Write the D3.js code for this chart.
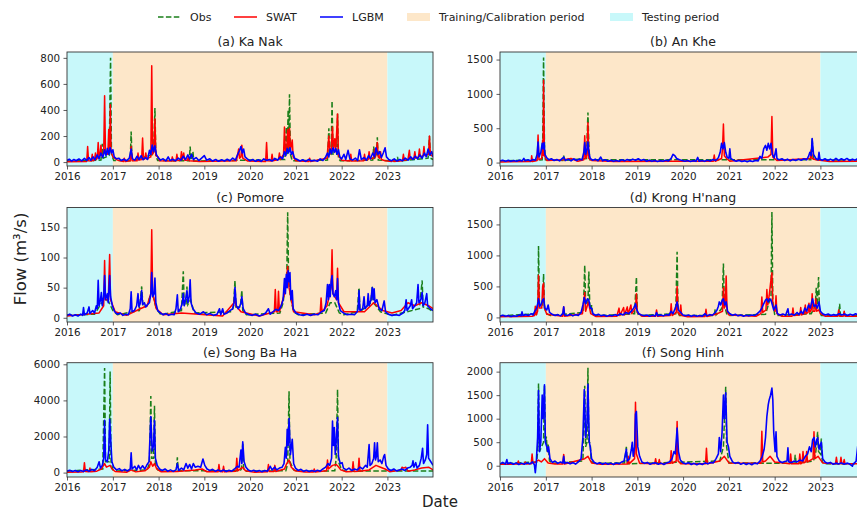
<!DOCTYPE html>
<html>
<head>
<meta charset="utf-8">
<script src="https://cdn.jsdelivr.net/npm/d3@7"></script>
<style>
  body { margin: 0; background: #fff; }
  text { font-family: "DejaVu Sans", sans-serif; fill: #222; }
</style>
</head>
<body>
<svg id="chart" width="857" height="512"></svg>
<script>
// ---- data (decimal year, flow m3/s) ----
const stations = ["(a) Ka Nak", "(b) An Khe", "(c) Pomore", "(d) Krong H'nang", "(e) Song Ba Ha", "(f) Song Hinh"];
const yearTicks = [2016, 2017, 2018, 2019, 2020, 2021, 2022, 2023];
const yTickValues = [[0, 200, 400, 600, 800], [0, 500, 1000, 1500], [0, 50, 100, 150], [0, 500, 1000, 1500], [0, 2000, 4000, 6000], [0, 500, 1000, 1500, 2000]];
const yLimits = [[-30, 845], [-50, 1610], [-7, 183], [-74, 1773], [-244, 6089], [-240, 2190]];
const periods = [
  {name: "Testing period", start: 2016, end: 2017},
  {name: "Training/Calibration period", start: 2017, end: 2023},
  {name: "Testing period", start: 2023, end: 2024}
];

const kaNakObs = [2016.00,8, 2016.74,15, 2016.77,140, 2016.79,30, 2016.92,50, 2016.95,800, 2016.97,60, 2017.02,12, 2017.38,10, 2017.40,235, 2017.42,10, 2017.89,60, 2017.92,415, 2017.94,50, 2017.98,12, 2018.67,10, 2018.69,120, 2018.71,15, 2018.75,80, 2018.77,8, 2020.76,20, 2020.79,270, 2020.81,60, 2020.83,400, 2020.845,80, 2020.86,520, 2020.88,60, 2020.92,10, 2021.69,15, 2021.72,260, 2021.74,50, 2021.77,60, 2021.79,470, 2021.81,60, 2021.89,60, 2021.91,370, 2021.93,30, 2021.97,10, 2022.68,15, 2022.70,120, 2022.72,30, 2022.76,40, 2022.78,190, 2022.80,15, 2023.20,8, 2023.22,40, 2023.24,8, 2023.89,30, 2023.92,200, 2023.94,30, 2024.00,20];
const kaNakSwat = [2016.00,3, 2016.43,5, 2016.45,120, 2016.47,10, 2016.53,8, 2016.55,60, 2016.57,10, 2016.60,15, 2016.62,70, 2016.64,20, 2016.66,30, 2016.68,150, 2016.70,40, 2016.72,50, 2016.74,130, 2016.76,45, 2016.80,60, 2016.82,510, 2016.84,70, 2016.89,60, 2016.91,250, 2016.93,90, 2016.945,440, 2016.96,80, 2017.00,40, 2017.10,15, 2017.23,5, 2017.25,30, 2017.27,5, 2017.38,10, 2017.40,120, 2017.42,10, 2017.53,10, 2017.55,70, 2017.57,15, 2017.63,20, 2017.65,185, 2017.67,20, 2017.70,25, 2017.72,70, 2017.74,25, 2017.83,40, 2017.85,740, 2017.87,60, 2017.90,80, 2017.92,330, 2017.94,50, 2017.99,40, 2018.02,10, 2018.28,8, 2018.30,40, 2018.32,8, 2018.38,10, 2018.40,60, 2018.42,12, 2018.48,15, 2018.50,80, 2018.52,20, 2018.55,70, 2018.57,15, 2018.63,15, 2018.65,40, 2018.67,10, 2018.90,5, 2019.70,10, 2019.73,60, 2019.75,100, 2019.77,30, 2019.80,40, 2019.82,130, 2019.84,30, 2019.95,8, 2020.34,5, 2020.36,150, 2020.38,10, 2020.46,8, 2020.48,60, 2020.50,10, 2020.62,20, 2020.64,70, 2020.66,20, 2020.73,60, 2020.75,270, 2020.77,80, 2020.80,100, 2020.82,250, 2020.84,110, 2020.86,260, 2020.88,90, 2020.92,170, 2020.94,40, 2021.00,10, 2021.28,5, 2021.30,30, 2021.32,5, 2021.68,30, 2021.70,120, 2021.72,200, 2021.74,60, 2021.77,90, 2021.80,270, 2021.82,100, 2021.85,180, 2021.87,80, 2021.91,370, 2021.93,50, 2022.00,15, 2022.18,8, 2022.20,60, 2022.22,8, 2022.48,10, 2022.50,60, 2022.52,15, 2022.58,20, 2022.60,80, 2022.62,25, 2022.70,30, 2022.72,100, 2022.74,40, 2022.78,150, 2022.80,40, 2022.83,30, 2022.85,80, 2022.87,20, 2022.95,10, 2023.10,5, 2023.12,20, 2023.14,5, 2023.33,10, 2023.35,60, 2023.37,15, 2023.45,20, 2023.48,90, 2023.50,25, 2023.58,30, 2023.60,80, 2023.62,30, 2023.68,40, 2023.70,100, 2023.72,40, 2023.78,50, 2023.80,120, 2023.82,50, 2023.90,60, 2023.92,200, 2023.94,60, 2024.00,40];
const kaNakLgbm = [2016.00,12, 2016.05,22, 2016.10,8, 2016.15,20, 2016.20,10, 2016.26,24, 2016.32,9, 2016.38,28, 2016.43,12, 2016.48,35, 2016.52,14, 2016.57,40, 2016.61,18, 2016.66,55, 2016.70,25, 2016.74,70, 2016.78,35, 2016.82,95, 2016.85,50, 2016.88,105, 2016.91,60, 2016.94,110, 2016.97,70, 2017.00,95, 2017.03,40, 2017.08,25, 2017.13,30, 2017.18,12, 2017.24,22, 2017.30,10, 2017.36,30, 2017.40,100, 2017.43,25, 2017.48,15, 2017.53,45, 2017.57,20, 2017.62,50, 2017.66,18, 2017.71,35, 2017.76,20, 2017.80,90, 2017.83,60, 2017.86,130, 2017.89,80, 2017.92,125, 2017.95,60, 2017.99,35, 2018.04,15, 2018.10,25, 2018.16,10, 2018.21,40, 2018.25,12, 2018.31,22, 2018.37,10, 2018.43,30, 2018.49,15, 2018.54,45, 2018.59,20, 2018.64,55, 2018.68,25, 2018.72,60, 2018.76,20, 2018.82,35, 2018.88,12, 2018.94,30, 2019.00,50, 2019.05,15, 2019.12,25, 2019.18,8, 2019.25,20, 2019.31,6, 2019.38,18, 2019.44,8, 2019.50,22, 2019.56,10, 2019.62,30, 2019.68,15, 2019.73,60, 2019.77,90, 2019.80,120, 2019.83,70, 2019.86,100, 2019.89,40, 2019.94,25, 2020.00,10, 2020.06,20, 2020.12,6, 2020.18,18, 2020.24,5, 2020.30,25, 2020.36,12, 2020.42,20, 2020.48,8, 2020.54,28, 2020.60,15, 2020.66,40, 2020.71,25, 2020.75,80, 2020.78,50, 2020.81,105, 2020.84,70, 2020.87,110, 2020.90,60, 2020.93,80, 2020.97,30, 2021.03,20, 2021.09,8, 2021.15,18, 2021.21,5, 2021.28,20, 2021.34,8, 2021.40,15, 2021.47,6, 2021.53,25, 2021.59,12, 2021.65,40, 2021.69,70, 2021.72,40, 2021.75,100, 2021.78,65, 2021.81,110, 2021.84,75, 2021.87,105, 2021.90,60, 2021.93,95, 2021.96,40, 2022.00,25, 2022.05,60, 2022.09,20, 2022.14,90, 2022.18,25, 2022.24,15, 2022.30,30, 2022.35,12, 2022.39,95, 2022.43,20, 2022.49,35, 2022.54,15, 2022.59,50, 2022.63,25, 2022.68,70, 2022.72,40, 2022.75,110, 2022.79,60, 2022.83,80, 2022.87,35, 2022.91,70, 2022.95,110, 2022.98,40, 2023.03,20, 2023.09,10, 2023.15,25, 2023.21,8, 2023.27,20, 2023.33,10, 2023.39,30, 2023.45,15, 2023.51,40, 2023.56,20, 2023.61,45, 2023.66,25, 2023.71,55, 2023.76,30, 2023.81,70, 2023.85,40, 2023.89,100, 2023.93,55, 2023.97,80, 2024.00,40];

const anKheObs = [2016.00,25, 2016.92,40, 2016.93,200, 2016.95,1530, 2016.97,250, 2016.99,40, 2017.37,30, 2017.39,100, 2017.41,30, 2017.89,60, 2017.90,300, 2017.92,730, 2017.94,250, 2017.96,40, 2022.79,40, 2022.80,150, 2022.82,350, 2022.84,100, 2022.86,40, 2024.00,35];
const anKheSwat = [2016.00,10, 2016.68,15, 2016.69,100, 2016.71,15, 2016.81,30, 2016.83,400, 2016.85,40, 2016.91,60, 2016.93,330, 2016.94,100, 2016.95,1200, 2016.97,100, 2017.02,30, 2017.40,40, 2017.55,60, 2017.70,20, 2017.83,40, 2017.85,390, 2017.87,60, 2017.90,100, 2017.92,580, 2017.94,60, 2018.00,30, 2018.50,15, 2019.80,20, 2020.66,20, 2020.68,110, 2020.70,20, 2020.84,60, 2020.86,200, 2020.88,560, 2020.90,100, 2020.95,60, 2021.02,20, 2021.85,80, 2021.92,120, 2021.94,670, 2021.96,80, 2022.05,30, 2022.78,60, 2022.80,180, 2022.82,60, 2022.90,40, 2023.20,15, 2024.00,20];
const anKheLgbm = [2016.00,25, 2016.06,35, 2016.12,20, 2016.18,32, 2016.24,18, 2016.30,30, 2016.36,20, 2016.42,35, 2016.48,22, 2016.52,60, 2016.55,25, 2016.61,40, 2016.66,25, 2016.72,45, 2016.77,35, 2016.81,120, 2016.83,300, 2016.85,80, 2016.89,150, 2016.92,280, 2016.94,200, 2016.96,290, 2016.98,120, 2017.02,70, 2017.07,40, 2017.12,55, 2017.18,30, 2017.24,45, 2017.30,25, 2017.36,60, 2017.39,80, 2017.43,30, 2017.49,50, 2017.55,25, 2017.61,55, 2017.67,30, 2017.73,50, 2017.79,40, 2017.83,150, 2017.85,290, 2017.87,120, 2017.90,200, 2017.92,300, 2017.94,150, 2017.97,60, 2018.02,35, 2018.08,50, 2018.14,25, 2018.20,80, 2018.24,25, 2018.30,40, 2018.36,20, 2018.42,35, 2018.48,18, 2018.54,30, 2018.60,20, 2018.66,40, 2018.72,25, 2018.78,45, 2018.84,30, 2018.90,50, 2018.96,35, 2019.02,55, 2019.08,30, 2019.14,45, 2019.20,20, 2019.26,35, 2019.32,18, 2019.38,30, 2019.44,15, 2019.50,28, 2019.56,20, 2019.62,35, 2019.68,25, 2019.74,60, 2019.78,120, 2019.82,100, 2019.86,60, 2019.92,40, 2019.98,30, 2020.04,20, 2020.10,30, 2020.16,15, 2020.22,28, 2020.28,18, 2020.32,75, 2020.35,20, 2020.41,30, 2020.47,18, 2020.53,35, 2020.59,22, 2020.65,45, 2020.71,30, 2020.77,70, 2020.81,150, 2020.84,280, 2020.87,200, 2020.90,290, 2020.93,150, 2020.96,80, 2021.00,60, 2021.02,200, 2021.04,60, 2021.10,35, 2021.16,20, 2021.22,30, 2021.28,15, 2021.34,25, 2021.40,12, 2021.46,25, 2021.52,15, 2021.58,30, 2021.64,25, 2021.68,90, 2021.72,60, 2021.76,200, 2021.80,250, 2021.83,180, 2021.86,280, 2021.89,200, 2021.92,280, 2021.95,120, 2021.99,70, 2022.03,200, 2022.05,60, 2022.10,40, 2022.16,55, 2022.22,30, 2022.28,50, 2022.34,25, 2022.40,45, 2022.46,30, 2022.52,50, 2022.58,35, 2022.64,55, 2022.70,40, 2022.74,90, 2022.77,150, 2022.80,100, 2022.82,350, 2022.85,120, 2022.90,60, 2022.95,40, 2022.97,150, 2022.99,50, 2023.04,35, 2023.10,55, 2023.16,30, 2023.22,50, 2023.28,28, 2023.34,60, 2023.40,30, 2023.46,55, 2023.52,35, 2023.58,60, 2023.64,30, 2023.70,50, 2023.76,35, 2023.82,60, 2023.88,35, 2023.94,55, 2024.00,40];

const pomoreObs = [2016.00,4, 2016.60,6, 2016.65,12, 2016.70,18, 2016.80,30, 2016.90,28, 2017.00,12, 2017.10,5, 2017.58,12, 2017.63,52, 2017.66,18, 2017.75,20, 2017.85,45, 2017.95,15, 2018.05,5, 2018.50,12, 2018.54,77, 2018.56,20, 2018.60,22, 2018.62,52, 2018.64,22, 2018.70,30, 2018.78,8, 2019.60,10, 2019.64,20, 2019.67,62, 2019.69,18, 2019.79,18, 2019.82,46, 2019.84,12, 2019.92,5, 2020.65,8, 2020.72,25, 2020.76,50, 2020.80,65, 2020.82,175, 2020.84,65, 2020.88,35, 2020.95,10, 2021.05,5, 2021.65,8, 2021.75,25, 2021.85,25, 2021.95,8, 2022.05,5, 2022.34,10, 2022.38,50, 2022.40,10, 2022.64,25, 2022.67,53, 2022.69,25, 2022.75,20, 2022.85,10, 2023.10,4, 2023.70,15, 2023.76,62, 2023.78,18, 2023.90,15, 2024.00,10];
const pomoreSwat = [2016.00,3, 2016.70,8, 2016.80,20, 2016.82,95, 2016.84,30, 2016.90,30, 2016.93,105, 2016.95,30, 2017.05,10, 2017.30,4, 2017.60,15, 2017.75,20, 2017.83,40, 2017.85,146, 2017.87,40, 2017.95,15, 2018.10,5, 2018.50,8, 2019.40,3, 2019.65,25, 2019.67,38, 2019.69,20, 2019.80,10, 2020.20,3, 2020.53,10, 2020.55,47, 2020.57,10, 2020.60,10, 2020.62,44, 2020.64,10, 2020.75,40, 2020.80,70, 2020.82,85, 2020.85,50, 2020.95,10, 2021.40,5, 2021.53,8, 2021.55,33, 2021.57,10, 2021.68,20, 2021.77,50, 2021.79,113, 2021.81,40, 2021.89,30, 2021.91,82, 2021.93,25, 2022.05,10, 2022.50,10, 2022.70,25, 2022.90,12, 2023.10,8, 2023.30,12, 2023.45,25, 2023.60,20, 2023.75,25, 2023.90,20, 2024.00,15];
const pomoreLgbm = [2016.00,4, 2016.06,6, 2016.12,3, 2016.18,5, 2016.24,3, 2016.30,6, 2016.34,4, 2016.36,17, 2016.38,5, 2016.44,8, 2016.48,18, 2016.50,7, 2016.56,12, 2016.60,8, 2016.64,20, 2016.66,15, 2016.68,62, 2016.70,20, 2016.73,30, 2016.75,42, 2016.77,20, 2016.80,35, 2016.82,70, 2016.84,30, 2016.88,40, 2016.90,25, 2016.93,70, 2016.95,35, 2016.99,20, 2017.04,10, 2017.10,6, 2017.16,8, 2017.22,4, 2017.28,6, 2017.34,5, 2017.38,15, 2017.40,43, 2017.42,10, 2017.47,12, 2017.52,20, 2017.55,40, 2017.57,18, 2017.60,25, 2017.63,45, 2017.65,22, 2017.69,25, 2017.72,18, 2017.76,22, 2017.80,25, 2017.83,40, 2017.85,75, 2017.87,35, 2017.90,40, 2017.92,66, 2017.94,25, 2017.98,12, 2018.04,8, 2018.10,5, 2018.16,7, 2018.22,4, 2018.28,6, 2018.34,5, 2018.38,15, 2018.41,38, 2018.43,10, 2018.48,15, 2018.52,25, 2018.54,40, 2018.56,20, 2018.59,30, 2018.62,45, 2018.64,25, 2018.67,35, 2018.69,63, 2018.71,25, 2018.75,15, 2018.82,8, 2018.90,6, 2018.98,10, 2019.05,5, 2019.12,7, 2019.20,4, 2019.28,6, 2019.33,15, 2019.36,5, 2019.40,15, 2019.43,6, 2019.50,8, 2019.56,12, 2019.62,15, 2019.65,25, 2019.67,50, 2019.70,20, 2019.74,15, 2019.78,20, 2019.80,25, 2019.82,35, 2019.85,15, 2019.90,8, 2019.98,5, 2020.05,4, 2020.12,6, 2020.20,3, 2020.28,5, 2020.34,8, 2020.40,15, 2020.44,6, 2020.50,10, 2020.56,14, 2020.62,12, 2020.68,20, 2020.72,30, 2020.75,65, 2020.77,40, 2020.79,72, 2020.81,50, 2020.83,78, 2020.85,60, 2020.87,75, 2020.89,30, 2020.92,45, 2020.94,15, 2021.00,8, 2021.08,5, 2021.16,4, 2021.24,6, 2021.32,4, 2021.40,6, 2021.48,5, 2021.56,10, 2021.62,12, 2021.66,25, 2021.69,55, 2021.71,30, 2021.73,55, 2021.75,35, 2021.77,60, 2021.79,70, 2021.81,40, 2021.84,35, 2021.87,45, 2021.89,30, 2021.91,65, 2021.93,25, 2021.97,12, 2022.04,8, 2022.12,5, 2022.20,6, 2022.28,5, 2022.34,10, 2022.36,15, 2022.38,45, 2022.40,12, 2022.46,15, 2022.49,35, 2022.51,15, 2022.56,20, 2022.58,40, 2022.60,20, 2022.64,30, 2022.67,50, 2022.69,30, 2022.71,48, 2022.73,25, 2022.77,30, 2022.82,15, 2022.88,12, 2022.93,28, 2022.96,10, 2023.02,6, 2023.10,4, 2023.18,5, 2023.26,4, 2023.34,8, 2023.38,12, 2023.41,30, 2023.43,12, 2023.50,20, 2023.53,30, 2023.55,15, 2023.60,20, 2023.64,25, 2023.67,55, 2023.69,25, 2023.73,30, 2023.76,42, 2023.78,20, 2023.82,25, 2023.86,40, 2023.88,20, 2023.94,15, 2024.00,12];

const krongObs = [2016.00,25, 2016.80,60, 2016.83,300, 2016.84,1150, 2016.86,200, 2016.93,200, 2016.95,700, 2016.97,150, 2017.02,60, 2017.10,30, 2017.82,80, 2017.85,840, 2017.87,200, 2017.92,250, 2017.94,740, 2017.96,200, 2017.99,120, 2018.00,200, 2018.02,40, 2018.10,25, 2018.94,60, 2018.98,650, 2019.00,80, 2019.03,30, 2019.84,60, 2019.87,1060, 2019.89,80, 2019.92,30, 2020.68,30, 2020.70,130, 2020.72,40, 2020.85,150, 2020.88,870, 2020.90,200, 2020.95,60, 2021.00,30, 2021.80,50, 2021.88,250, 2021.92,300, 2021.94,1700, 2021.96,250, 2022.00,50, 2022.05,30, 2022.80,60, 2022.86,150, 2022.89,200, 2022.91,480, 2022.93,200, 2022.96,650, 2022.98,120, 2023.02,30, 2023.40,30, 2023.42,220, 2023.44,30, 2023.88,30, 2023.90,250, 2023.92,40, 2024.00,30];
const krongSwat = [2016.00,10, 2016.70,20, 2016.75,30, 2016.77,180, 2016.79,40, 2016.82,100, 2016.84,680, 2016.86,150, 2016.91,150, 2016.93,500, 2016.95,550, 2016.97,150, 2017.02,50, 2017.37,20, 2017.39,170, 2017.41,20, 2017.80,60, 2017.85,400, 2017.87,100, 2017.93,250, 2017.98,60, 2018.10,15, 2018.55,20, 2018.60,150, 2018.62,30, 2018.70,160, 2018.72,40, 2018.78,170, 2018.80,50, 2018.86,200, 2018.88,60, 2018.96,150, 2018.98,380, 2019.00,80, 2019.10,20, 2019.40,20, 2019.42,120, 2019.44,20, 2019.72,30, 2019.74,220, 2019.76,30, 2019.85,80, 2019.87,500, 2019.89,80, 2019.93,40, 2019.95,200, 2019.97,30, 2020.10,10, 2020.48,15, 2020.50,130, 2020.52,15, 2020.75,60, 2020.86,100, 2020.88,480, 2020.90,150, 2020.92,200, 2020.94,670, 2020.96,100, 2021.00,40, 2021.60,20, 2021.70,60, 2021.72,330, 2021.74,80, 2021.81,120, 2021.83,450, 2021.85,200, 2021.88,350, 2021.91,550, 2021.94,720, 2021.96,200, 2022.01,100, 2022.03,350, 2022.05,60, 2022.15,20, 2022.38,20, 2022.40,150, 2022.42,30, 2022.55,40, 2022.57,160, 2022.59,40, 2022.65,60, 2022.67,200, 2022.69,60, 2022.73,80, 2022.75,230, 2022.77,80, 2022.80,120, 2022.82,380, 2022.84,100, 2022.88,100, 2022.90,300, 2022.92,100, 2022.97,120, 2023.00,60, 2023.10,20, 2023.38,20, 2023.40,120, 2023.42,20, 2023.50,20, 2023.52,100, 2023.54,20, 2024.00,15];
const krongLgbm = [2016.00,20, 2016.06,35, 2016.12,18, 2016.18,30, 2016.24,15, 2016.30,28, 2016.36,20, 2016.42,40, 2016.46,25, 2016.48,90, 2016.50,30, 2016.56,45, 2016.62,30, 2016.68,60, 2016.72,40, 2016.76,100, 2016.80,150, 2016.83,250, 2016.84,300, 2016.87,180, 2016.90,220, 2016.93,280, 2016.95,300, 2016.98,150, 2017.02,120, 2017.05,200, 2017.08,80, 2017.14,50, 2017.20,30, 2017.26,45, 2017.32,25, 2017.37,60, 2017.39,170, 2017.41,40, 2017.47,30, 2017.53,50, 2017.59,25, 2017.65,45, 2017.71,30, 2017.77,80, 2017.81,200, 2017.84,320, 2017.87,220, 2017.91,300, 2017.94,280, 2017.97,150, 2018.00,150, 2018.03,60, 2018.09,35, 2018.15,50, 2018.21,25, 2018.27,40, 2018.33,20, 2018.39,35, 2018.45,25, 2018.51,45, 2018.57,30, 2018.63,60, 2018.69,40, 2018.75,80, 2018.81,60, 2018.87,100, 2018.92,150, 2018.96,220, 2018.99,120, 2019.03,60, 2019.09,40, 2019.15,25, 2019.21,40, 2019.27,20, 2019.33,35, 2019.39,25, 2019.42,80, 2019.45,25, 2019.51,40, 2019.57,25, 2019.63,45, 2019.69,35, 2019.74,100, 2019.78,60, 2019.83,150, 2019.87,250, 2019.90,120, 2019.95,80, 2020.00,40, 2020.06,25, 2020.12,40, 2020.18,20, 2020.24,35, 2020.30,18, 2020.36,30, 2020.42,20, 2020.48,60, 2020.52,25, 2020.58,45, 2020.64,35, 2020.70,80, 2020.74,120, 2020.77,180, 2020.79,250, 2020.82,200, 2020.85,270, 2020.88,300, 2020.91,200, 2020.94,250, 2020.97,100, 2021.02,60, 2021.08,35, 2021.14,50, 2021.20,25, 2021.26,40, 2021.32,20, 2021.38,35, 2021.44,25, 2021.50,40, 2021.56,30, 2021.62,60, 2021.68,100, 2021.72,150, 2021.76,220, 2021.80,280, 2021.83,300, 2021.86,250, 2021.89,300, 2021.92,280, 2021.95,200, 2021.98,120, 2022.03,200, 2022.06,60, 2022.12,40, 2022.18,55, 2022.24,35, 2022.29,140, 2022.31,40, 2022.37,55, 2022.43,35, 2022.49,80, 2022.53,45, 2022.58,100, 2022.62,60, 2022.66,150, 2022.70,100, 2022.74,200, 2022.78,150, 2022.81,250, 2022.83,300, 2022.86,180, 2022.90,200, 2022.93,150, 2022.97,250, 2023.00,100, 2023.05,60, 2023.11,40, 2023.17,55, 2023.23,30, 2023.29,45, 2023.35,35, 2023.41,60, 2023.47,40, 2023.53,55, 2023.59,30, 2023.65,50, 2023.71,35, 2023.77,60, 2023.83,40, 2023.89,90, 2023.92,150, 2023.96,60, 2024.00,50];

const songBaHaObs = [2016.00,80, 2016.78,200, 2016.82,5800, 2016.84,600, 2016.92,600, 2016.94,5600, 2016.96,600, 2017.00,150, 2017.10,90, 2017.75,150, 2017.80,500, 2017.83,4250, 2017.85,800, 2017.89,800, 2017.91,3700, 2017.93,500, 2017.98,150, 2018.10,80, 2018.39,80, 2018.41,850, 2018.43,100, 2019.78,100, 2019.81,200, 2019.84,1600, 2019.86,200, 2019.92,80, 2020.78,100, 2020.82,500, 2020.85,4500, 2020.87,600, 2020.95,150, 2021.05,70, 2021.85,100, 2021.88,800, 2021.91,4600, 2021.93,600, 2022.00,150, 2022.10,80, 2024.00,90];
const songBaHaSwat = [2016.00,20, 2016.30,30, 2016.36,40, 2016.38,550, 2016.40,60, 2016.48,40, 2016.50,250, 2016.52,40, 2016.65,80, 2016.75,200, 2016.82,500, 2016.86,300, 2016.94,400, 2016.98,200, 2017.05,60, 2017.30,20, 2017.40,150, 2017.50,40, 2017.70,100, 2017.80,300, 2017.83,600, 2017.87,350, 2017.91,500, 2017.96,200, 2018.05,50, 2018.40,60, 2018.60,100, 2018.80,150, 2018.95,200, 2019.05,50, 2019.30,40, 2019.32,450, 2019.34,60, 2019.40,40, 2019.42,350, 2019.44,40, 2019.69,80, 2019.71,800, 2019.73,100, 2019.84,300, 2019.90,100, 2020.10,20, 2020.38,40, 2020.40,450, 2020.42,60, 2020.52,60, 2020.54,400, 2020.56,60, 2020.75,200, 2020.80,500, 2020.85,700, 2020.90,300, 2020.98,100, 2021.20,30, 2021.38,30, 2021.40,200, 2021.42,30, 2021.67,100, 2021.69,700, 2021.71,200, 2021.80,400, 2021.88,450, 2021.92,350, 2021.98,150, 2022.10,50, 2022.23,60, 2022.25,600, 2022.27,60, 2022.36,80, 2022.38,800, 2022.40,80, 2022.60,150, 2022.75,400, 2022.85,300, 2022.95,200, 2023.05,50, 2023.30,150, 2023.32,300, 2023.36,250, 2023.40,300, 2023.45,80, 2023.60,150, 2023.75,250, 2023.90,300, 2024.00,150];
const songBaHaLgbm = [2016.00,80, 2016.06,130, 2016.12,60, 2016.18,120, 2016.24,50, 2016.30,110, 2016.36,60, 2016.42,150, 2016.48,70, 2016.54,180, 2016.60,100, 2016.66,300, 2016.70,600, 2016.73,250, 2016.77,400, 2016.80,800, 2016.82,2900, 2016.84,700, 2016.88,600, 2016.91,1200, 2016.93,2950, 2016.96,1500, 2016.98,600, 2017.02,300, 2017.08,150, 2017.14,220, 2017.20,100, 2017.26,180, 2017.32,90, 2017.38,200, 2017.40,1100, 2017.42,200, 2017.48,350, 2017.52,150, 2017.56,400, 2017.60,200, 2017.65,380, 2017.70,200, 2017.75,450, 2017.79,600, 2017.82,2500, 2017.83,3100, 2017.86,1200, 2017.89,1500, 2017.91,2900, 2017.93,800, 2017.97,400, 2018.02,200, 2018.08,120, 2018.14,200, 2018.20,80, 2018.26,150, 2018.32,70, 2018.38,150, 2018.41,500, 2018.44,120, 2018.50,250, 2018.55,150, 2018.60,500, 2018.64,250, 2018.68,450, 2018.72,200, 2018.76,500, 2018.80,300, 2018.86,350, 2018.92,300, 2018.97,750, 2019.01,400, 2019.06,200, 2019.12,120, 2019.18,180, 2019.24,80, 2019.30,150, 2019.36,70, 2019.42,140, 2019.48,60, 2019.54,130, 2019.60,80, 2019.66,200, 2019.72,350, 2019.76,300, 2019.80,1250, 2019.82,500, 2019.84,1700, 2019.87,600, 2019.91,300, 2019.96,150, 2020.02,80, 2020.08,130, 2020.14,60, 2020.20,110, 2020.26,50, 2020.32,120, 2020.38,80, 2020.44,350, 2020.48,150, 2020.54,300, 2020.58,150, 2020.64,250, 2020.70,300, 2020.74,500, 2020.77,1400, 2020.79,800, 2020.81,2400, 2020.83,1500, 2020.85,3000, 2020.88,1000, 2020.92,1850, 2020.95,500, 2020.99,250, 2021.05,120, 2021.11,180, 2021.17,70, 2021.23,130, 2021.29,60, 2021.35,120, 2021.41,60, 2021.47,130, 2021.53,80, 2021.59,200, 2021.65,300, 2021.70,500, 2021.74,400, 2021.78,800, 2021.80,2850, 2021.82,1500, 2021.84,2500, 2021.86,1000, 2021.88,1700, 2021.91,3050, 2021.93,900, 2021.97,500, 2022.01,550, 2022.04,250, 2022.10,150, 2022.16,250, 2022.22,120, 2022.28,200, 2022.34,150, 2022.40,300, 2022.46,200, 2022.52,400, 2022.56,300, 2022.60,1550, 2022.62,400, 2022.66,500, 2022.70,800, 2022.72,1650, 2022.74,700, 2022.76,900, 2022.78,1650, 2022.80,600, 2022.84,700, 2022.88,500, 2022.92,900, 2022.94,1000, 2022.97,400, 2023.02,200, 2023.08,120, 2023.14,200, 2023.20,90, 2023.26,150, 2023.32,200, 2023.38,120, 2023.44,250, 2023.50,300, 2023.54,400, 2023.56,650, 2023.58,300, 2023.62,550, 2023.65,250, 2023.70,400, 2023.74,800, 2023.77,1350, 2023.79,500, 2023.83,700, 2023.86,1000, 2023.88,2650, 2023.90,800, 2023.95,600, 2024.00,400];

const songHinhObs = [2016.00,40, 2016.80,80, 2016.82,300, 2016.84,1750, 2016.86,300, 2016.95,500, 2016.97,1700, 2016.99,500, 2017.01,620, 2017.03,300, 2017.05,450, 2017.08,100, 2017.15,50, 2017.81,100, 2017.85,1700, 2017.87,400, 2017.90,500, 2017.92,2080, 2017.94,500, 2017.97,480, 2017.99,100, 2018.05,50, 2018.72,60, 2018.76,400, 2018.78,60, 2018.80,40, 2020.80,100, 2020.88,400, 2020.93,1680, 2020.95,400, 2021.00,60, 2022.43,50, 2022.45,230, 2022.47,50, 2022.85,100, 2022.90,300, 2022.94,720, 2022.96,300, 2023.00,250, 2023.02,580, 2023.04,80, 2023.10,40, 2024.00,40];
const songHinhSwat = [2016.00,30, 2016.38,35, 2016.40,100, 2016.42,35, 2016.53,35, 2016.55,80, 2016.57,35, 2016.68,40, 2016.70,250, 2016.72,50, 2016.84,120, 2016.90,80, 2016.97,150, 2017.05,60, 2017.20,35, 2017.37,35, 2017.39,240, 2017.41,35, 2017.85,150, 2017.92,200, 2018.00,60, 2018.20,30, 2018.78,35, 2018.80,200, 2018.82,40, 2018.94,150, 2018.96,1350, 2018.98,250, 2019.05,50, 2019.38,40, 2019.40,150, 2019.42,40, 2019.46,40, 2019.48,130, 2019.50,40, 2019.72,50, 2019.74,320, 2019.76,50, 2019.85,100, 2019.87,940, 2019.89,100, 2019.95,40, 2020.49,40, 2020.51,370, 2020.53,40, 2020.80,100, 2020.90,200, 2021.00,60, 2021.70,50, 2021.72,730, 2021.74,80, 2021.80,100, 2021.90,200, 2022.00,80, 2022.33,40, 2022.35,250, 2022.37,40, 2022.53,40, 2022.55,250, 2022.57,40, 2022.60,60, 2022.62,300, 2022.64,60, 2022.68,80, 2022.70,300, 2022.72,80, 2022.84,150, 2022.86,720, 2022.88,150, 2022.95,200, 2023.05,60, 2023.33,40, 2023.35,180, 2023.37,40, 2023.43,40, 2023.45,180, 2023.47,40, 2023.50,40, 2023.52,130, 2023.54,40, 2024.00,40];
const songHinhLgbm = [2016.00,40, 2016.06,70, 2016.12,35, 2016.15,130, 2016.17,40, 2016.23,65, 2016.29,30, 2016.35,60, 2016.41,25, 2016.47,55, 2016.53,30, 2016.59,60, 2016.65,40, 2016.71,80, 2016.75,20, 2016.77,-150, 2016.79,50, 2016.82,600, 2016.84,1600, 2016.86,300, 2016.89,500, 2016.92,1500, 2016.94,1000, 2016.97,1720, 2016.99,500, 2017.02,400, 2017.04,300, 2017.06,400, 2017.09,150, 2017.14,70, 2017.20,100, 2017.26,50, 2017.32,80, 2017.37,60, 2017.39,200, 2017.41,50, 2017.47,70, 2017.53,40, 2017.59,65, 2017.65,35, 2017.71,80, 2017.77,150, 2017.81,600, 2017.84,1620, 2017.87,600, 2017.90,900, 2017.92,1730, 2017.95,500, 2017.97,400, 2018.00,150, 2018.06,70, 2018.12,40, 2018.18,65, 2018.24,30, 2018.30,60, 2018.36,30, 2018.42,55, 2018.48,25, 2018.54,60, 2018.60,40, 2018.66,80, 2018.71,100, 2018.74,250, 2018.76,350, 2018.78,100, 2018.83,150, 2018.87,350, 2018.89,500, 2018.91,200, 2018.94,400, 2018.96,1100, 2018.98,1150, 2019.01,400, 2019.05,200, 2019.10,80, 2019.16,50, 2019.22,70, 2019.28,30, 2019.34,55, 2019.40,60, 2019.46,30, 2019.52,55, 2019.58,25, 2019.64,60, 2019.70,80, 2019.76,150, 2019.80,300, 2019.83,250, 2019.87,800, 2019.90,300, 2019.94,120, 2020.00,60, 2020.06,40, 2020.12,65, 2020.18,25, 2020.24,50, 2020.30,20, 2020.36,45, 2020.42,25, 2020.48,60, 2020.54,40, 2020.60,70, 2020.66,60, 2020.72,150, 2020.77,250, 2020.79,600, 2020.82,300, 2020.85,700, 2020.88,1500, 2020.90,1000, 2020.93,1550, 2020.96,500, 2020.99,400, 2021.02,200, 2021.08,80, 2021.14,50, 2021.20,70, 2021.26,30, 2021.32,55, 2021.38,25, 2021.44,50, 2021.50,20, 2021.56,55, 2021.62,40, 2021.68,100, 2021.73,200, 2021.77,350, 2021.80,600, 2021.83,1050, 2021.86,1300, 2021.88,1400, 2021.91,1500, 2021.94,1650, 2021.96,1400, 2021.98,700, 2022.01,300, 2022.03,720, 2022.05,200, 2022.10,100, 2022.16,70, 2022.22,90, 2022.27,100, 2022.29,380, 2022.31,80, 2022.37,70, 2022.43,100, 2022.49,80, 2022.55,120, 2022.61,100, 2022.67,200, 2022.72,250, 2022.76,400, 2022.80,300, 2022.83,550, 2022.86,600, 2022.89,400, 2022.92,550, 2022.94,600, 2022.97,350, 2023.00,450, 2023.02,500, 2023.05,150, 2023.10,80, 2023.16,50, 2023.22,70, 2023.28,30, 2023.34,55, 2023.40,35, 2023.46,60, 2023.52,30, 2023.58,55, 2023.64,35, 2023.70,-10, 2023.72,40, 2023.78,90, 2023.82,450, 2023.84,100, 2023.90,80, 2023.96,60, 2024.00,50];

// ---- helpers ----
const toDate = y => {
  const yr = Math.floor(y);
  const a = new Date(yr, 0, 1), b = new Date(yr + 1, 0, 1);
  return new Date(+a + (y - yr) * (b - a));
};
const pairs = flat => d3.range(0, flat.length, 2).map(i => [toDate(flat[i]), flat[i + 1]]);

const panels = [
  {obs: kaNakObs, swat: kaNakSwat, lgbm: kaNakLgbm},
  {obs: anKheObs, swat: anKheSwat, lgbm: anKheLgbm},
  {obs: pomoreObs, swat: pomoreSwat, lgbm: pomoreLgbm},
  {obs: krongObs, swat: krongSwat, lgbm: krongLgbm},
  {obs: songBaHaObs, swat: songBaHaSwat, lgbm: songBaHaLgbm},
  {obs: songHinhObs, swat: songHinhSwat, lgbm: songHinhLgbm}
].map((p, i) => ({...p, title: stations[i], yDomain: yLimits[i], yTicks: yTickValues[i]}));

const colors = {obs: "#1a7f1a", swat: "#ff0000", lgbm: "#0000ff", train: "#fde7c9", test: "#c8f8fa"};

// layout of the 3x2 grid
const cols = [[67, 433], [500, 866]];
const rows = [[52, 166], [207.5, 322], [362.7, 477]];

const svg = d3.select("#chart");

panels.forEach((p, i) => {
  const [x0, x1] = cols[i % 2];
  const [y0, y1] = rows[Math.floor(i / 2)];

  const x = d3.scaleTime().domain([new Date(2016, 0, 1), new Date(2023, 11, 31)]).range([x0, x1]);
  const y = d3.scaleLinear().domain(p.yDomain).range([y1, y0]);

  const g = svg.append("g");
  const clipId = "clip" + i;
  g.append("clipPath").attr("id", clipId)
    .append("rect").attr("x", x0).attr("y", y0).attr("width", x1 - x0).attr("height", y1 - y0);

  const plot = g.append("g").attr("clip-path", `url(#${clipId})`);

  plot.selectAll("rect.period").data(periods).join("rect")
    .attr("class", "period")
    .attr("x", d => x(toDate(d.start)))
    .attr("width", d => x(toDate(d.end)) - x(toDate(d.start)))
    .attr("y", y0).attr("height", y1 - y0)
    .attr("fill", d => d.name === "Testing period" ? colors.test : colors.train);

  const line = d3.line().x(d => x(d[0])).y(d => y(d[1]));

  plot.append("path").datum(pairs(p.obs)).attr("d", line)
    .attr("fill", "none").attr("stroke", colors.obs).attr("stroke-width", 1.5)
    .attr("stroke-dasharray", "5.5,2.4");
  plot.append("path").datum(pairs(p.swat)).attr("d", line)
    .attr("fill", "none").attr("stroke", colors.swat).attr("stroke-width", 1.5)
    .attr("stroke-linejoin", "round");
  plot.append("path").datum(pairs(p.lgbm)).attr("d", line)
    .attr("fill", "none").attr("stroke", colors.lgbm).attr("stroke-width", 1.6)
    .attr("stroke-linejoin", "round");

  // axes
  const xAxis = d3.axisBottom(x)
    .tickValues(yearTicks.map(v => new Date(v, 0, 1)))
    .tickFormat(d3.timeFormat("%Y"))
    .tickSize(3.5).tickPadding(3.5);
  const yAxis = d3.axisLeft(y).tickValues(p.yTicks).tickFormat(d3.format("d"))
    .tickSize(3.5).tickPadding(3.5);

  const gx = g.append("g").attr("transform", `translate(0,${y1})`).call(xAxis);
  const gy = g.append("g").attr("transform", `translate(${x0},0)`).call(yAxis);
  [gx, gy].forEach(a => {
    a.select(".domain").remove();
    a.selectAll("line").attr("stroke", "#333").attr("stroke-width", 0.8);
    a.selectAll("text").attr("font-size", 10.3).attr("font-family", "DejaVu Sans").attr("fill", "#222");
  });

  g.append("rect").attr("x", x0).attr("y", y0).attr("width", x1 - x0).attr("height", y1 - y0)
    .attr("fill", "none").attr("stroke", "#333").attr("stroke-width", 0.9);

  g.append("text").attr("x", (x0 + x1) / 2).attr("y", y0 - 6)
    .attr("text-anchor", "middle").attr("font-size", 12.5).text(p.title);
});

// shared axis labels
svg.append("text").attr("transform", "translate(26,259) rotate(-90)")
  .attr("text-anchor", "middle").attr("font-size", 16.5).text("Flow (m³/s)");
svg.append("text").attr("x", 440).attr("y", 507)
  .attr("text-anchor", "middle").attr("font-size", 15).text("Date");

// legend
const legendItems = [
  {label: "Obs", type: "line", color: colors.obs, dash: "5.5,2.4", x: 158},
  {label: "SWAT", type: "line", color: colors.swat, dash: null, x: 234},
  {label: "LGBM", type: "line", color: colors.lgbm, dash: null, x: 320},
  {label: "Training/Calibration period", type: "patch", color: colors.train, x: 407},
  {label: "Testing period", type: "patch", color: colors.test, x: 610}
];
const lg = svg.append("g");
legendItems.forEach(d => {
  if (d.type === "line") {
    lg.append("line").attr("x1", d.x).attr("x2", d.x + 23).attr("y1", 17).attr("y2", 17)
      .attr("stroke", d.color).attr("stroke-width", 1.5).attr("stroke-dasharray", d.dash);
  } else {
    lg.append("rect").attr("x", d.x).attr("y", 13).attr("width", 23).attr("height", 8).attr("fill", d.color);
  }
  lg.append("text").attr("x", d.x + 32).attr("y", 21).attr("font-size", 11).text(d.label);
});
</script>
</body>
</html>
